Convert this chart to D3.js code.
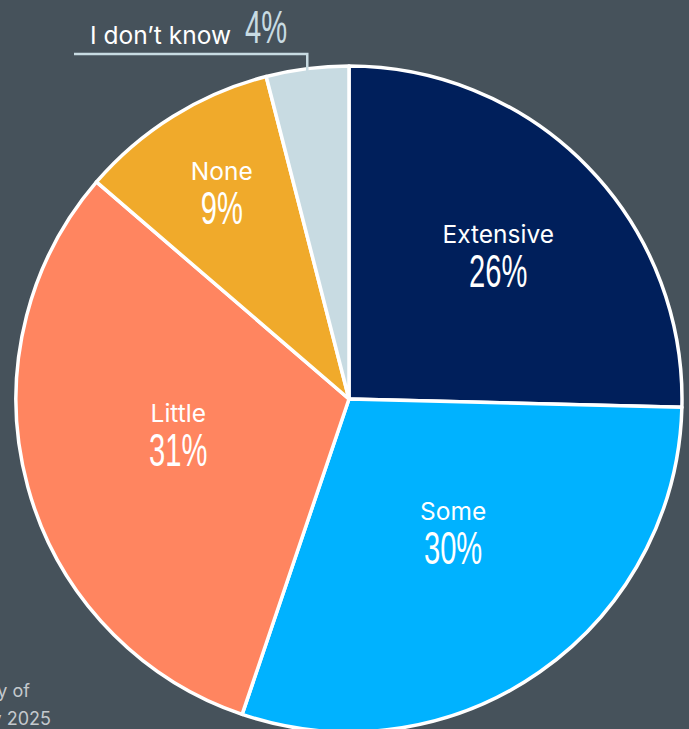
<!DOCTYPE html>
<html>
<head>
<meta charset="utf-8">
<script src="https://cdn.jsdelivr.net/npm/d3@7"></script>
<style>
  html, body { margin: 0; padding: 0; background: #46525b; overflow: hidden; }
</style>
</head>
<body>
<script>
// * Data
const categories = ["Extensive", "Some", "Little", "None", "I don\u2019t know"];
// slice sizes as drawn in the picture (percent)
const shares = [25.4, 29.8, 31.1, 9.7, 4.0];
// percentages printed on the chart
const shareLabels = ["26%", "30%", "31%", "9%", "4%"];
const colors = ["#001f5b", "#00b2ff", "#ff8560", "#f0aa2b", "#c8dbe2"];

// * Size & layout
const width = 689;
const height = 729;
const cx = 349;
const cy = 399;
const radius = 333;
// label placement: distance as a share of radius, and a small angle nudge (degrees)
const labelRadius = [0.626, 0.502, 0.522, 0.734, null];
const labelNudge = [0, -3.6, 4.5, 0.5, 0];
const nameFont = "Inter, Roboto, 'Liberation Sans', sans-serif";
const pctFont = "'Liberation Sans', Arial, sans-serif";
const squeeze = 0.62; // tall, narrow percent figures

const svg = d3
	.select("body")
	.append("svg")
	.attr("width", width)
	.attr("height", height);

const data = categories.map((c, i) => ({
	name: c,
	value: shares[i],
	label: shareLabels[i],
	color: colors[i],
	lr: labelRadius[i],
	nudge: labelNudge[i],
}));

const pie = d3.pie().value((d) => d.value).sort(null);
const arcs = pie(data);
const arc = d3.arc().innerRadius(0).outerRadius(radius);

const g = svg.append("g").attr("transform", `translate(${cx},${cy})`);

g.selectAll("path")
	.data(arcs)
	.join("path")
	.attr("d", arc)
	.attr("fill", (d) => d.data.color)
	.attr("stroke", "#ffffff")
	.attr("stroke-width", 3.5)
	.attr("stroke-linejoin", "round");

// * Inside labels
const inside = arcs.filter((d) => d.data.lr !== null);
const labels = g.selectAll("g.lbl")
	.data(inside)
	.join("g")
	.attr("class", "lbl")
	.attr("transform", (d) => {
		const a = (d.startAngle + d.endAngle) / 2 + (d.data.nudge * Math.PI) / 180;
		const r = radius * d.data.lr;
		return `translate(${r * Math.sin(a)},${-r * Math.cos(a)})`;
	});

labels.append("text")
	.attr("text-anchor", "middle")
	.attr("y", -10)
	.attr("font-family", nameFont)
	.attr("font-size", 24.5)
	.attr("fill", "#ffffff")
	.text((d) => d.data.name);

labels.append("text")
	.attr("text-anchor", "middle")
	.attr("transform", `translate(0,34) scale(${squeeze},1)`)
	.attr("font-family", pctFont)
	.attr("font-size", 47)
	.attr("fill", "#ffffff")
	.text((d) => d.data.label);

// * Outside label with leader line
const last = arcs[arcs.length - 1];
const ma = (last.startAngle + last.endAngle) / 2;
const lx = radius * Math.sin(ma);
const ly = -radius * Math.cos(ma);
const lineY = 54 - cy;
g.append("polyline")
	.attr("points", [[lx, ly + 8], [lx, lineY], [74 - cx, lineY]].map((p) => p.join(",")).join(" "))
	.attr("fill", "none")
	.attr("stroke", last.data.color)
	.attr("stroke-width", 2.5);

g.append("text")
	.attr("x", 231 - cx)
	.attr("y", 44 - cy)
	.attr("text-anchor", "end")
	.attr("font-family", nameFont)
	.attr("font-size", 24.5)
	.attr("fill", "#ffffff")
	.text(last.data.name);

g.append("text")
	.attr("transform", `translate(${245 - cx},${43 - cy}) scale(${squeeze},1)`)
	.attr("font-family", pctFont)
	.attr("font-size", 47)
	.attr("fill", last.data.color)
	.text(last.data.label);

// * Source note (cut off at the left edge, as in the original)
const note = svg.append("g")
	.attr("font-family", nameFont)
	.attr("font-size", 18)
	.attr("fill", "#c4c9cd");
note.append("text").attr("x", 30).attr("y", 697).attr("text-anchor", "end").text("Survey of");
note.append("text").attr("x", 51).attr("y", 725).attr("text-anchor", "end").text("February 2025");
</script>
</body>
</html>
